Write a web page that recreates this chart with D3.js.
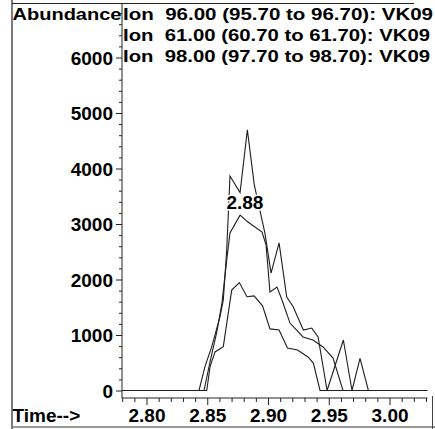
<!DOCTYPE html>
<html><head><meta charset="utf-8">
<script src="https://cdn.jsdelivr.net/npm/d3@7"></script>
<style>
html,body{margin:0;padding:0;background:#fff;}
svg{display:block;}
text{font-family:"Liberation Sans",Arial,Helvetica,sans-serif;font-weight:bold;fill:#000;}
</style></head>
<body><svg id="c" width="435" height="429"></svg>
<script>
// ---- data (time in min, abundance) ----
const ion96 = [[2.780,0],[2.8432,0],[2.8481,430],[2.8537,790],[2.8605,1330],[2.8632,1630],[2.8660,2530],[2.8687,3865],[2.8770,3565],[2.8830,4695],[2.8887,3705],[2.8975,2830],[2.9025,2115],[2.9091,2660],[2.9154,1685],[2.9208,1505],[2.9291,1090],[2.9360,1125],[2.9412,965],[2.9486,0],[2.9620,910],[2.9691,0],[2.9757,580],[2.9826,0],[3.031,0]];
const ion61 = [[2.780,0],[2.8473,0],[2.8523,515],[2.8580,1070],[2.8621,1575],[2.8662,2385],[2.8687,2840],[2.8770,3160],[2.8835,3035],[2.8951,2855],[2.8984,2620],[2.9016,1775],[2.9074,1865],[2.9115,1630],[2.9181,1215],[2.9288,965],[2.9370,910],[2.9453,785],[2.9535,585],[2.9617,0],[3.031,0]];
const ion98 = [[2.780,0],[2.8496,0],[2.8523,430],[2.8564,695],[2.8632,790],[2.8701,1810],[2.8764,1945],[2.8827,1690],[2.8885,1705],[2.8955,1525],[2.9016,1110],[2.9091,1090],[2.9160,765],[2.9243,730],[2.9329,605],[2.9373,495],[2.9428,0],[3.031,0]];
const legendLines = ["Ion  96.00 (95.70 to 96.70): VK09","Ion  61.00 (60.70 to 61.70): VK09","Ion  98.00 (97.70 to 98.70): VK09"];
const yMajor = [0,1000,2000,3000,4000,5000,6000];
const xMajor = [2.80,2.85,2.90,2.95,3.00];
const xLabels = ["2.80","2.85","2.90","2.95","3.00"];
const peakLabel = {t:2.881, v:3270, text:"2.88"};

const svg = d3.select("#c");
const x = d3.scaleLinear().domain([2.78,3.031]).range([122.2,427.2]);
const y = d3.scaleLinear().domain([0,7000]).range([390.5,2]);

// page frame (scan border)
svg.append("line").attr("x1",12).attr("x2",414).attr("y1",3.5).attr("y2",3.5).attr("stroke","#222").attr("stroke-width",1.2);
svg.append("line").attr("x1",12).attr("x2",12).attr("y1",0).attr("y2",429).attr("stroke","#222").attr("stroke-width",1.2);
svg.append("line").attr("x1",12).attr("x2",435).attr("y1",427).attr("y2",427).attr("stroke","#777").attr("stroke-width",1.5);
svg.append("line").attr("x1",432.5).attr("x2",432.5).attr("y1",396).attr("y2",429).attr("stroke","#444").attr("stroke-width",1);

// y axis
const yMinor = d3.range(0,7000,200).filter(v=>v%1000!==0);
const ga = svg.append("g").attr("transform","translate(122,0)");
ga.call(d3.axisLeft(y).tickValues(yMinor).tickSize(3).tickSizeOuter(0).tickFormat(""));
ga.select(".domain").remove();
const gy = svg.append("g").attr("transform","translate(122,0)");
gy.call(d3.axisLeft(y).tickValues(yMajor).tickSize(6).tickSizeOuter(0).tickPadding(3).tickFormat(d3.format("d")));
gy.select(".domain").remove();
gy.selectAll("text").style("font-size","19px").style("font-family",null).attr("dy","0.36em");
svg.selectAll(".tick line").attr("stroke","#222");
svg.append("line").attr("x1",122).attr("x2",122).attr("y1",3).attr("y2",398.5).attr("stroke","#222").attr("stroke-width",1);

// x axis
const xMinor = d3.range(278,304).map(d=>d/100).filter(t=>Math.round(t*100)%5!==0);
const gxm = svg.append("g").attr("transform","translate(0,398)");
gxm.call(d3.axisBottom(x).tickValues(xMinor).tickSize(4).tickSizeOuter(0).tickFormat(""));
gxm.select(".domain").remove();
const gx = svg.append("g").attr("transform","translate(0,398)");
gx.call(d3.axisBottom(x).tickValues(xMajor).tickSize(7).tickSizeOuter(0).tickPadding(3).tickFormat((d,i)=>xLabels[i]));
gx.select(".domain").remove();
gx.selectAll("text").style("font-size","19px").style("font-family",null).attr("y",null).attr("dy",null).attr("transform","translate(0,24)");
svg.selectAll(".tick line").attr("stroke","#222");
svg.append("line").attr("x1",122).attr("x2",427.5).attr("y1",398).attr("y2",398).attr("stroke","#222").attr("stroke-width",1);

svg.append("text").attr("x",12.5).attr("y",422).style("font-size","19px").text("Time-->");
svg.append("text").attr("x",12.5).attr("y",20).style("font-size","17px")
  .attr("textLength",109).attr("lengthAdjust","spacingAndGlyphs").text("Abundance");
legendLines.forEach((s,i)=>{
  svg.append("text").attr("x",123).attr("y",19.5+i*21).style("font-size","16.5px")
    .attr("textLength",i===0?310:307).attr("lengthAdjust","spacingAndGlyphs").attr("xml:space","preserve").text(s);
});

// traces
const line = d3.line().x(d=>x(d[0])).y(d=>y(d[1]));
[ion98, ion61, ion96].forEach(s=>{
  svg.append("path").datum(s).attr("d",line).attr("fill","none")
    .attr("stroke","#1e1e1e").attr("stroke-width",1.1).attr("stroke-linejoin","miter");
});

svg.append("text").attr("x",x(peakLabel.t)).attr("y",y(peakLabel.v)).attr("text-anchor","middle")
  .style("font-size","19px").style("paint-order","stroke").attr("stroke","#fff").attr("stroke-width",3)
  .attr("stroke-linejoin","round").text(peakLabel.text);
</script></body></html>
